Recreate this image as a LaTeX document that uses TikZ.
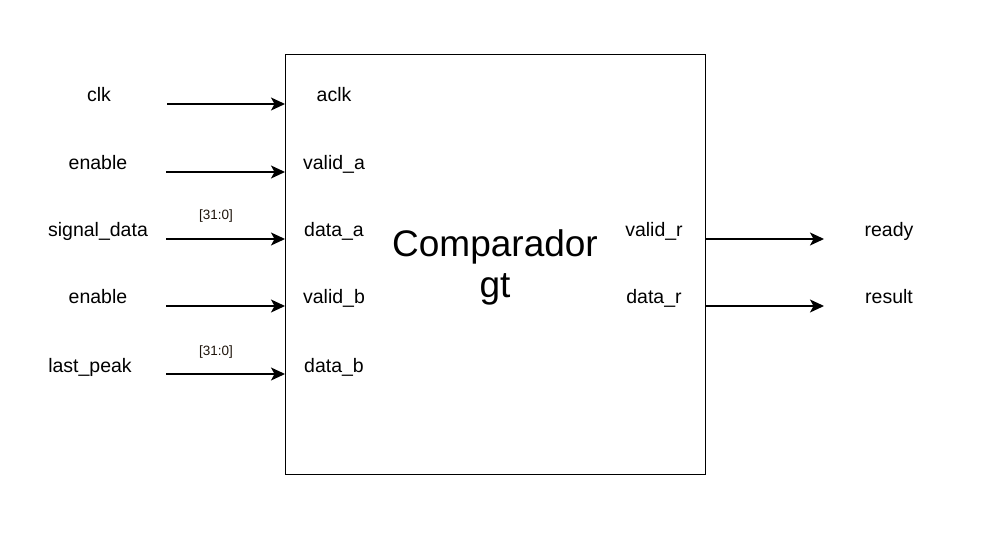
\documentclass[tikz,border=0pt]{standalone}
\usepackage{fontspec}
\setmainfont{Liberation Sans}
\usetikzlibrary{arrows.meta}
\begin{document}
\begin{tikzpicture}[x=1pt,y=-1pt,
  lbl/.style={font=\fontsize{19.5}{22}\selectfont, inner sep=0, anchor=base},
  bus/.style={font=\fontsize{13.5}{15}\selectfont, inner sep=0, anchor=base, text=black!85!brown},
  sig/.style={line width=1.4pt, -{Stealth[length=14pt,width=13pt,inset=3.5pt]}},
  blk/.style={draw, line width=1.4pt, minimum width=420pt, minimum height=420pt, inner sep=0, anchor=north west}]
\useasboundingbox (0,0) rectangle (994,540);
\node[blk] (comp) at (285,54) {};
\node[font=\fontsize{37}{41}\selectfont, align=center, inner sep=0, anchor=base] (title) at (495,298) {Comparador\\gt};
% inputs
\node[lbl] (lclk) at (99,102) {clk};
\node[lbl] (len1) at (98,170) {enable};
\node[lbl] (lsig) at (98,237) {signal\_data};
\node[lbl] (len2) at (98,304) {enable};
\node[lbl] (llp) at (90,372) {last\_peak};
\coordinate (s1) at (167,104);
\coordinate (s2) at (166,172);
\coordinate (s3) at (166,239);
\coordinate (s4) at (166,306);
\coordinate (s5) at (166,374);
\draw[sig] (s1) -- (comp.west |- s1);
\draw[sig] (s2) -- (comp.west |- s2);
\draw[sig] (s3) -- (comp.west |- s3);
\draw[sig] (s4) -- (comp.west |- s4);
\draw[sig] (s5) -- (comp.west |- s5);
\node[bus] (b1) at (216,220) {[31:0]};
\node[bus] (b2) at (216,355) {[31:0]};
% ports
\node[lbl] (paclk) at (334,102) {aclk};
\node[lbl] (pva) at (334,170) {valid\_a};
\node[lbl] (pda) at (334,237) {data\_a};
\node[lbl] (pvb) at (334,304) {valid\_b};
\node[lbl] (pdb) at (334,372) {data\_b};
\node[lbl] (pvr) at (654,237) {valid\_r};
\node[lbl] (pdr) at (654,304) {data\_r};
% outputs
\coordinate (e1) at (824,239);
\coordinate (e2) at (824,306);
\draw[sig] (comp.east |- e1) -- (e1);
\draw[sig] (comp.east |- e2) -- (e2);
\node[lbl] (lready) at (889,237) {ready};
\node[lbl] (lres) at (889,304) {result};
\end{tikzpicture}
\end{document}
